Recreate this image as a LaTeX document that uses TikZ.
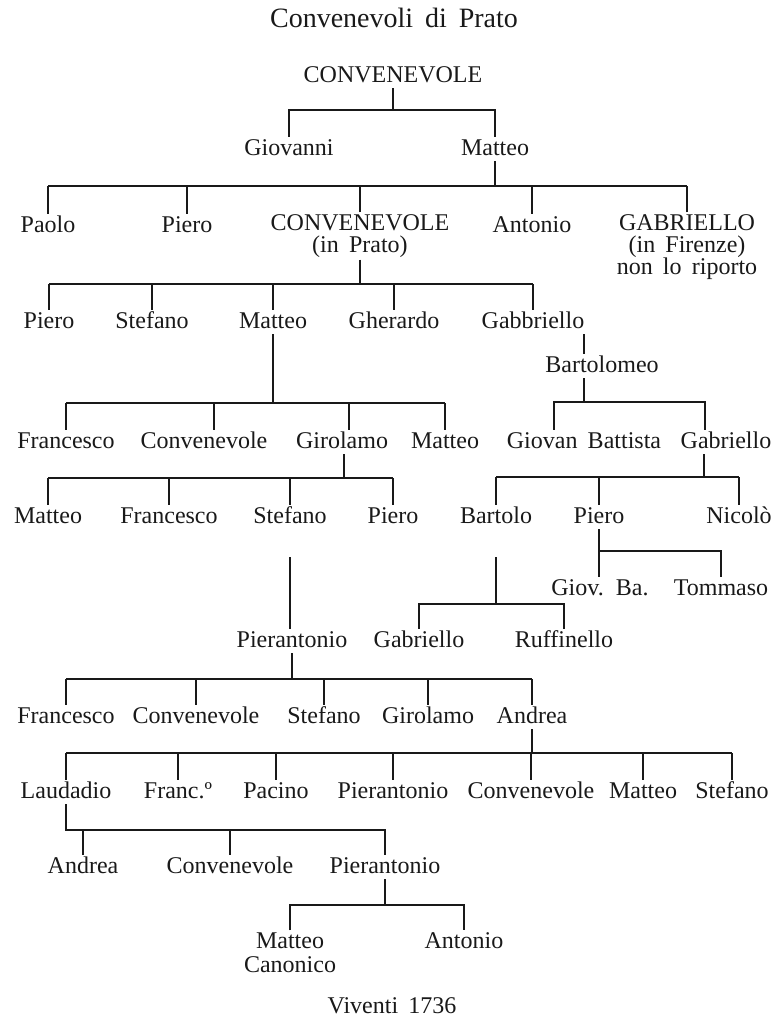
\documentclass[tikz,border=0pt]{standalone}
\usepackage{fontspec}
\setmainfont{Liberation Serif}[WordSpace=1.7]
\usetikzlibrary{calc}
\definecolor{InkClr}{rgb}{0.1,0.1,0.1}

\begin{document}
\begin{tikzpicture}[x=1pt,y=-1pt]
\tikzset{person/.style={anchor=base,inner sep=2pt,text height=16pt,text depth=4pt,text=InkClr,font=\fontsize{24}{22}\selectfont},
  person2/.style={anchor=north,inner sep=2pt,align=center,text=InkClr,font=\fontsize{24}{22}\selectfont},
  kin/.style={draw=InkClr,line width=1.1pt}}
\useasboundingbox (0,0) rectangle (777,1021);

\node[anchor=base,text=InkClr,font=\fontsize{28}{30}\selectfont] (title) at (394,27) {Convenevoli di Prato};

\node[person] (Cv) at (393,82) {CONVENEVOLE};
\node[person] (Gio) at (289,155) {Giovanni};
\node[person] (Mt) at (495,155) {Matteo};
\coordinate (bCv) at (0,110);
\draw[kin] (Cv.south) -- (Cv.south |- bCv);
\draw[kin] (Gio.north) |- (Mt.north |- bCv) -- (Mt.north);

\node[person] (Pa) at (48,232) {Paolo};
\node[person] (Pi) at (187,232) {Piero};
\node[person2] (Cp) at (360,212.3) {CONVENEVOLE\\(in Prato)};
\node[person] (An) at (532,232) {Antonio};
\node[person2] (Ga) at (687,212.3) {GABRIELLO\\(in Firenze)\\non lo riporto};
\coordinate (bMt) at (0,186);
\draw[kin] (Mt.south) -- (Mt.south |- bMt);
\draw[kin] (Pa.north |- bMt) -- (Ga.north |- bMt);
\foreach \k in {Pa,Pi,Cp,An,Ga} \draw[kin] (\k.north) -- (\k.north |- bMt);

\node[person] (Pi2) at (49,328) {Piero};
\node[person] (St) at (152,328) {Stefano};
\node[person] (Mt2) at (273,328) {Matteo};
\node[person] (Gh) at (394,328) {Gherardo};
\node[person] (Gb) at (533,328) {Gabbriello};
\coordinate (bCp) at (0,284);
\draw[kin] (Cp.south) -- (Cp.south |- bCp);
\draw[kin] (Pi2.north |- bCp) -- (Gb.north |- bCp);
\foreach \k in {Pi2,St,Mt2,Gh,Gb} \draw[kin] (\k.north) -- (\k.north |- bCp);

\node[person] (Bt) at (602,372) {Bartolomeo};
\draw[kin] ([xshift=-18pt]Bt.north) -- ([xshift=-18pt]Bt.north |- Gb.south);

% figli di Matteo
\node[person] (Fr) at (66,448) {Francesco};
\node[person] (Cv3) at (204,448) {Convenevole};
\node[person] (Gr) at (342,448) {Girolamo};
\node[person] (Mt3) at (445,448) {Matteo};
\coordinate (bMt2) at (0,403);
\coordinate (Cv3t) at ([xshift=10pt]Cv3.north);
\coordinate (Grt) at ([xshift=7pt]Gr.north);
\draw[kin] (Mt2.south) -- (Mt2.south |- bMt2);
\draw[kin] (Fr.north |- bMt2) -- (Mt3.north |- bMt2);
\foreach \k in {Fr.north,Cv3t,Grt,Mt3.north} \draw[kin] (\k) -- (\k |- bMt2);

% figli di Bartolomeo
\node[person] (GB) at (584,448) {Giovan Battista};
\node[person] (Gl) at (726,448) {Gabriello};
\coordinate (bBt) at (0,402);
\coordinate (GBt) at ([xshift=-30pt]GB.north);
\coordinate (Glt) at ([xshift=-21pt]Gl.north);
\draw[kin] ([xshift=-18pt]Bt.south) -- ([xshift=-18pt]Bt.south |- bBt);
\draw[kin] (GBt) |- (Glt |- bBt) -- (Glt);

\node[person] (Mt4) at (48,523) {Matteo};
\node[person] (Fr2) at (169,523) {Francesco};
\node[person] (St2) at (290,523) {Stefano};
\node[person] (Pi3) at (393,523) {Piero};
\coordinate (bGr) at (0,478);
\draw[kin] ([xshift=2pt]Gr.south) -- ([xshift=2pt]Gr.south |- bGr);
\draw[kin] (Mt4.north |- bGr) -- (Pi3.north |- bGr);
\foreach \k in {Mt4,Fr2,St2,Pi3} \draw[kin] (\k.north) -- (\k.north |- bGr);

\node[person] (Bo) at (496,523) {Bartolo};
\node[person] (Pi4) at (599,523) {Piero};
\node[person] (Ni) at (739,523) {Nicolò};
\coordinate (bGl) at (0,477);
\draw[kin] ([xshift=-22pt]Gl.south) -- ([xshift=-22pt]Gl.south |- bGl);
\draw[kin] (Bo.north |- bGl) -- (Ni.north |- bGl);
\foreach \k in {Bo,Pi4,Ni} \draw[kin] (\k.north) -- (\k.north |- bGl);

\node[person] (GBa) at (600,595) {Giov. Ba.};
\node[person] (To) at (721,595) {Tommaso};
\coordinate (bPi) at (0,551);
\draw[kin] (Pi4.south) -- (Pi4.south |- GBa.north);
\draw[kin] (Pi4.south |- bPi) -| (To.north);

\node[person] (Pa2) at (292,647) {Pierantonio};
\node[person] (Gl2) at (419,647) {Gabriello};
\node[person] (Ru) at (564,647) {Ruffinello};
\coordinate (bBo) at (0,604);
\draw[kin] ([yshift=-28pt]St2.south) -- (St2.south |- Pa2.north);
\draw[kin] ([yshift=-28pt]Bo.south) -- (Bo.south |- bBo);
\draw[kin] (Gl2.north) |- (Ru.north |- bBo) -- (Ru.north);

% figli di Pierantonio
\node[person] (Fr3) at (66,723) {Francesco};
\node[person] (Cv4) at (196,723) {Convenevole};
\node[person] (St3) at (324,723) {Stefano};
\node[person] (Gr2) at (428,723) {Girolamo};
\node[person] (Ad) at (532,723) {Andrea};
\coordinate (bPa) at (0,679);
\draw[kin] (Pa2.south) -- (Pa2.south |- bPa);
\draw[kin] (Fr3.north |- bPa) -- (Ad.north |- bPa);
\foreach \k in {Fr3,Cv4,St3,Gr2,Ad} \draw[kin] (\k.north) -- (\k.north |- bPa);

% figli di Andrea
\node[person] (La) at (66,798) {Laudadio};
\node[person] (Fc) at (178,798) {Franc.º};
\node[person] (Pc) at (276,798) {Pacino};
\node[person] (Pa3) at (393,798) {Pierantonio};
\node[person] (Cv5) at (531,798) {Convenevole};
\node[person] (Mt5) at (643,798) {Matteo};
\node[person] (St4) at (732,798) {Stefano};
\coordinate (bAd) at (0,753);
\draw[kin] (Ad.south) -- (Ad.south |- bAd);
\draw[kin] (La.north |- bAd) -- (St4.north |- bAd);
\foreach \k in {La,Fc,Pc,Pa3,Cv5,Mt5,St4} \draw[kin] (\k.north) -- (\k.north |- bAd);

\node[person] (Ad2) at (83,873) {Andrea};
\node[person] (Cv6) at (230,873) {Convenevole};
\node[person] (Pa4) at (385,873) {Pierantonio};
\coordinate (bLa) at (0,830);
\draw[kin] (La.south) |- (Pa4.north |- bLa) -- (Pa4.north);
\foreach \k in {Ad2,Cv6} \draw[kin] (\k.north) -- (\k.north |- bLa);

\node[person2] (MC) at (290,930.3) {Matteo\\[2pt]Canonico};
\node[person] (An2) at (464,948) {Antonio};
\coordinate (bPa4) at (0,905);
\draw[kin] (Pa4.south) -- (Pa4.south |- bPa4);
\draw[kin] (MC.north) |- (An2.north |- bPa4) -- (An2.north);

\node[anchor=base,text=InkClr,font=\fontsize{24}{28}\selectfont] (viv) at (392,1013) {Viventi 1736};

\end{tikzpicture}
\end{document}
